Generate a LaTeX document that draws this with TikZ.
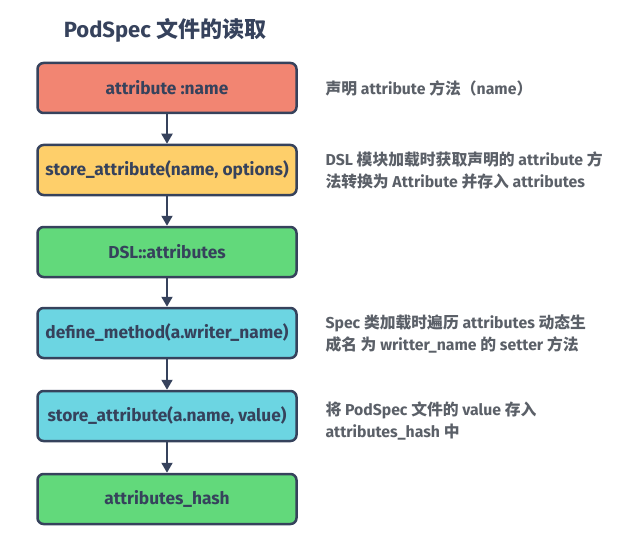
\documentclass[tikz,border=0pt]{standalone}
\usepackage{fontspec}
\setmainfont{Fira Sans}
\newfontfamily\cjk{Noto Sans CJK SC}
\usetikzlibrary{arrows.meta}
\definecolor{ink}{HTML}{36425C}
\definecolor{notegray}{HTML}{5B6068}
\definecolor{boxred}{HTML}{F28572}
\definecolor{boxyellow}{HTML}{FECF6A}
\definecolor{boxgreen}{HTML}{62D97B}
\definecolor{boxcyan}{HTML}{6CD5E2}
\newcommand{\zh}[1]{{\cjk #1}}
\tikzset{
  stepbox/.style={draw=ink, line width=2.5pt, rounded corners=6pt,
    minimum width=259pt, minimum height=50pt, text=ink,
    font=\bfseries\fontsize{17.3}{19}\selectfont},
  note/.style={anchor=west, align=left, text=notegray,
    font=\bfseries\fontsize{15.8}{22}\selectfont},
  flow/.style={draw=ink, line width=2pt, -{Triangle[width=11pt,length=10pt]}}
}
\begin{document}
\begin{tikzpicture}[x=1pt, y=-1pt]
      \useasboundingbox (0,0) rectangle (621,559);
      \node[text=ink, font=\bfseries\fontsize{22}{26}\selectfont] at (165,30) (title) {PodSpec \zh{文件的读取}};
      \node[stepbox, fill=boxred] at (167,88) (A) {attribute :name};
      \node[stepbox, fill=boxyellow] at (167,170) (B) {store\_attribute(name, options)};
      \node[stepbox, fill=boxgreen] at (167,252) (C) {DSL::attributes};
      \node[stepbox, fill=boxcyan] at (167,333) (D) {define\_method(a.writer\_name)};
      \node[stepbox, fill=boxcyan] at (167,416) (E) {store\_attribute(a.name, value)};
      \node[stepbox, fill=boxgreen] at (167,499) (F) {attributes\_hash};
      \node[note] at (322,88) (nA) {\zh{声明} attribute \zh{方法（}name\zh{）}};
      \node[note] at (322,170) (nB) {DSL \zh{模块加载时获取声明的} attribute \zh{方}\\\zh{法转换为} Attribute \zh{并存入} attributes};
      \node[note] at (322,334) (nD) {Spec \zh{类加载时遍历} attributes \zh{动态生}\\\zh{成名 为} writter\_name \zh{的} setter \zh{方法}};
      \node[note] at (322,421) (nE) {\zh{将} PodSpec \zh{文件的} value \zh{存入}\\attributes\_hash \zh{中}};
      \draw[flow] (A) -- (B);
      \draw[flow] (B) -- (C);
      \draw[flow] (C) -- (D);
      \draw[flow] (D) -- (E);
      \draw[flow] (E) -- (F);
    \end{tikzpicture}
\end{document}
